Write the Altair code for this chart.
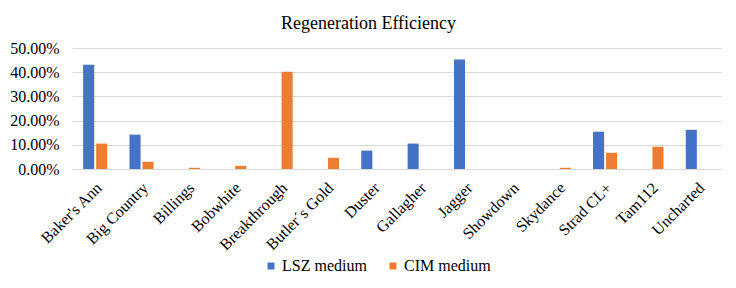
import altair as alt
import pandas as pd

categories = ["Baker's Ann", "Big Country", "Billings", "Bobwhite", "Breakthrough",
              "Butler\u00b4s Gold", "Duster", "Gallagher", "Jagger", "Showdown",
              "Skydance", "Strad CL+", "Tam112", "Uncharted"]
series = ["LSZ medium", "CIM medium"]
lsz = [0.431, 0.142, 0.0, 0.0, 0.0, 0.0, 0.076, 0.105, 0.452, 0.0, 0.0, 0.154, 0.0, 0.162]
cim = [0.105, 0.030, 0.005, 0.013, 0.402, 0.047, 0.0, 0.0, 0.0, 0.0, 0.005, 0.067, 0.092, 0.0]
colors = ["#4472C4", "#ED7D31"]

rows = []
for c, a, b in zip(categories, lsz, cim):
    rows.append({"cat": c, "series": series[0], "value": a})
    rows.append({"cat": c, "series": series[1], "value": b})
df = pd.DataFrame(rows)

font = "'Times New Roman', 'Liberation Serif', serif"

chart = alt.Chart(df).mark_bar().encode(
    x=alt.X("cat:N", sort=categories, title=None,
            scale=alt.Scale(paddingInner=0.48, paddingOuter=0.24),
            axis=alt.Axis(labelAngle=-45, labelAlign="right", labelBaseline="middle",
                          labelFont=font, labelFontSize=16, labelColor="#000000",
                          ticks=False, domainColor="#d9d9d9", labelPadding=16,
                          labelOffset=4)),
    xOffset=alt.XOffset("series:N", sort=series,
                        scale=alt.Scale(paddingInner=0.15, paddingOuter=0)),
    y=alt.Y("value:Q", title=None,
            scale=alt.Scale(domain=[0, 0.5], nice=False),
            axis=alt.Axis(format=".2%", values=[0, 0.1, 0.2, 0.3, 0.4, 0.5],
                          labelFont=font, labelFontSize=16, labelColor="#000000",
                          ticks=False, domain=False, gridColor="#d9d9d9",
                          labelPadding=13)),
    color=alt.Color("series:N", sort=series,
                    scale=alt.Scale(domain=series, range=colors),
                    legend=alt.Legend(title=None, orient="none", direction="horizontal",
                                      legendX=191, legendY=210, symbolType="square",
                                      symbolSize=49, symbolStrokeWidth=0,
                                      labelFont=font, labelFontSize=16,
                                      labelColor="#000000", columnPadding=18,
                                      labelOffset=3)),
).properties(
    width=649, height=121,
    title=alt.TitleParams("Regeneration Efficiency", font=font, fontSize=18,
                          fontWeight="normal", color="#000000", anchor="middle",
                          dx=-28, offset=7),
    autosize=alt.AutoSizeParams(type="none"),
    padding={"left": 64, "top": 40, "right": 7, "bottom": 105},
).configure(font=font).configure_axis(labelFont=font).configure_legend(
    labelFont=font
).configure_view(stroke=None)

chart.save("out.html", embed_options={"renderer": "svg", "actions": False})
